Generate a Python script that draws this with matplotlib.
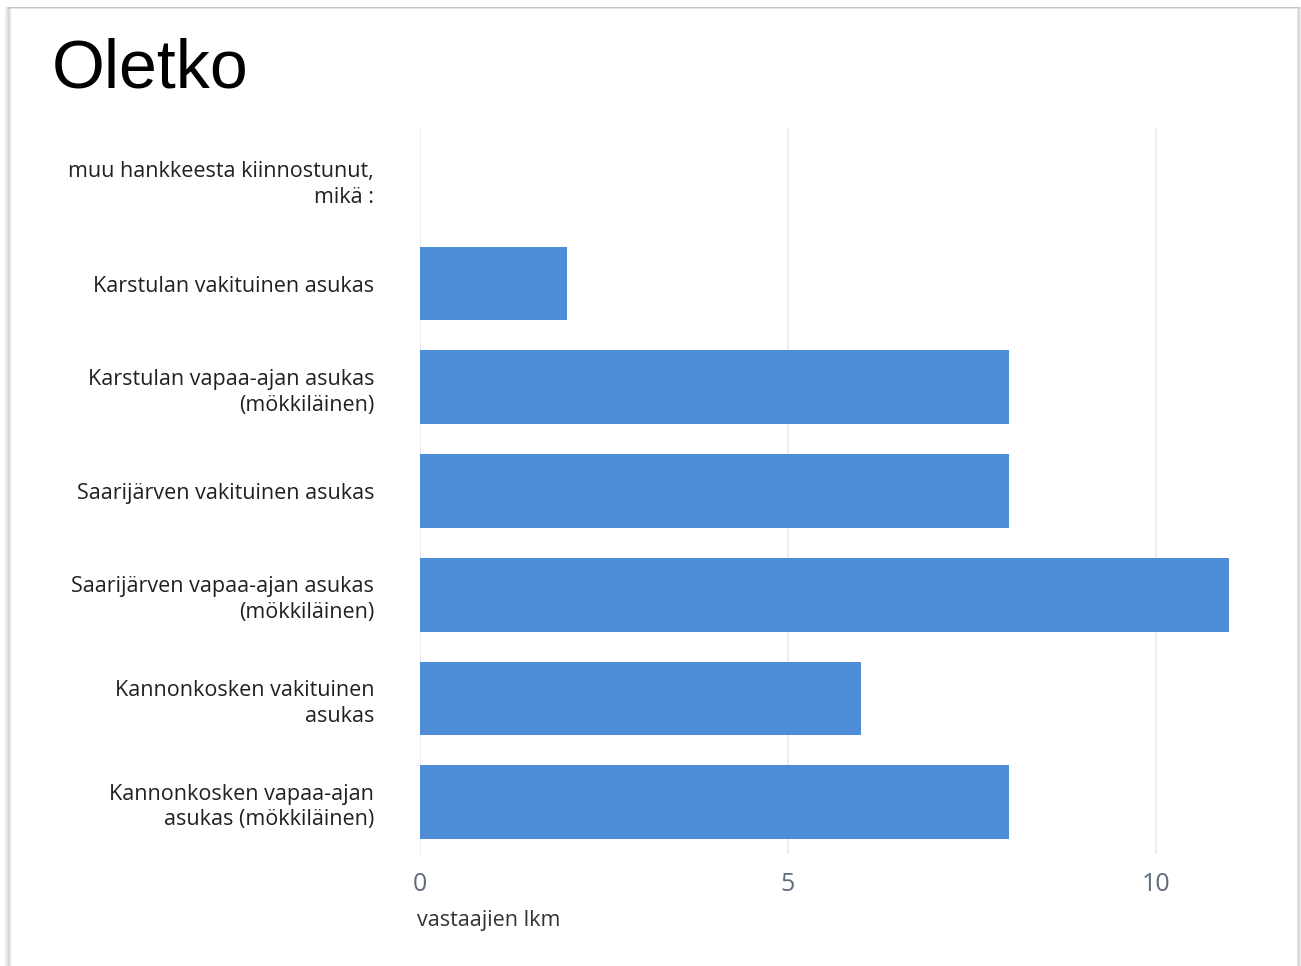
import matplotlib.pyplot as plt
from matplotlib.patches import Rectangle

CATEGORIES = [
    "muu hankkeesta kiinnostunut,\nmikä :",
    "Karstulan vakituinen asukas",
    "Karstulan vapaa-ajan asukas\n(mökkiläinen)",
    "Saarijärven vakituinen asukas",
    "Saarijärven vapaa-ajan asukas\n(mökkiläinen)",
    "Kannonkosken vakituinen\nasukas",
    "Kannonkosken vapaa-ajan\nasukas (mökkiläinen)",
]
COUNTS = [0, 2, 8, 8, 11, 6, 8]
X_TICKS = [0, 5, 10]

TITLE = "Oletko"
X_LABEL = "vastaajien lkm"
BAR_COLOR = "#4e8cd7"

W, H = 1301, 966


def draw_card(fig):
    # kortin reunat ja pehmeä varjo (sivuilla vahvempi, ylhäällä haalea)
    for i, alpha in enumerate([0.04, 0.07, 0.11, 0.16, 0.24]):
        off = 5 - i
        fig.patches.append(Rectangle(
            ((10 - off) / W, -0.05), (1287 + 2 * off) / W, (966 - 8) / H + 0.05,
            transform=fig.transFigure, facecolor="none",
            edgecolor=(0.45, 0.45, 0.45, alpha), linewidth=1.2, zorder=-3))
    fig.patches.append(Rectangle(
        (10 / W, -0.05), 1287 / W, (966 - 8) / H + 0.05,
        transform=fig.transFigure, facecolor="white",
        edgecolor="#e4e4e4", linewidth=0.8, zorder=-2))


def main():
    plt.rcParams["font.family"] = ["Open Sans", "DejaVu Sans"]
    fig = plt.figure(figsize=(W / 100, H / 100), dpi=100)
    fig.patch.set_facecolor("white")
    draw_card(fig)

    ax = fig.add_axes([420 / W, 1 - 854 / H, 824 / W, 726 / H])
    ax.set_zorder(1)
    ax.set_facecolor("none")

    y = range(len(CATEGORIES))
    ax.barh(list(y), COUNTS, height=0.71, color=BAR_COLOR, zorder=3)

    ax.set_xlim(0, 11.2)
    ax.set_ylim(len(CATEGORIES) - 0.5, -0.5)
    ax.set_yticks(list(y))
    ax.set_yticklabels(CATEGORIES, fontsize=15.5, color="#202124",
                       ha="right", linespacing=1.3)
    ax.set_xticks(X_TICKS)
    ax.set_xticklabels([str(t) for t in X_TICKS], fontsize=18, color="#5f6b7a")
    ax.tick_params(axis="y", length=0, pad=33)
    ax.tick_params(axis="x", length=0, pad=13)
    ax.grid(axis="x", color="#e8eaed", linewidth=1.2, zorder=0)
    for spine in ax.spines.values():
        spine.set_visible(False)

    ax.set_xlabel(X_LABEL, fontsize=15.5, color="#333333", loc="left", labelpad=9)
    ax.xaxis.label.set_x(-0.004)

    fig.text(52 / W, 1 - 88 / H, TITLE, fontsize=49, color="black",
             family="Liberation Sans", ha="left", va="baseline", zorder=2)

    fig.savefig("out.png", dpi=100)
    plt.close(fig)


if __name__ == "__main__":
    main()
